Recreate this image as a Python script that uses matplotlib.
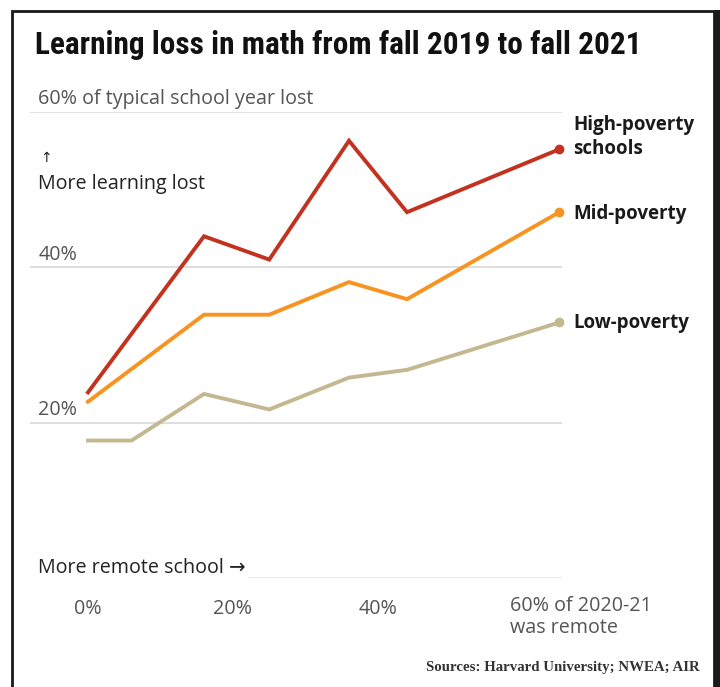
import matplotlib
matplotlib.use("Agg")
import matplotlib.pyplot as plt
from matplotlib import font_manager
from matplotlib.patches import Rectangle

def pick(*names):
    avail = {f.name for f in font_manager.fontManager.ttflist}
    for n in names:
        if n in avail:
            return n
    return "DejaVu Sans"

TITLE_FONT = pick("Liberation Sans Narrow", "Roboto Condensed", "Roboto")
BODY_FONT = pick("Open Sans", "Roboto", "DejaVu Sans")
SERIF_FONT = pick("Liberation Serif", "DejaVu Serif")

# ---- data ----
title = "Learning loss in math from fall 2019 to fall 2021"
high_x = [0, 16, 25, 36, 44, 65]
high_y = [23.9, 44.0, 41.0, 56.3, 47.1, 55.2]
mid_x = [0, 16, 25, 36, 44, 65]
mid_y = [22.7, 33.9, 33.9, 38.1, 35.9, 47.1]
low_x = [0, 6, 16, 25, 36, 44, 65]
low_y = [17.7, 17.7, 23.7, 21.7, 25.8, 26.8, 32.9]
series_labels = ["High-poverty\nschools", "Mid-poverty", "Low-poverty"]
y_ticks = [20, 40, 60]
y_tick_labels = ["20%", "40%", "60% of typical school year lost"]
x_ticks = [0, 20, 40, 60]
x_tick_labels = ["0%", "20%", "40%", "60% of 2020-21\nwas remote"]
source = "Sources: Harvard University; NWEA; AIR"

W, H = 720, 687
fig = plt.figure(figsize=(W / 100, H / 100), dpi=100)
fig.patch.set_facecolor("white")

def fx(px):
    return px / W

def fy(py):
    return 1 - py / H

# frame
fig.add_artist(Rectangle((fx(12), fy(H + 5)), fx(714) - fx(12), fy(11) - fy(H + 5),
                         transform=fig.transFigure, fill=False, edgecolor="#1a1a1a",
                         linewidth=2.0))
fig.add_artist(Rectangle((fx(714), 0), fx(720) - fx(714), fy(10),
                         transform=fig.transFigure, color="#1a1a1a", linewidth=0))

# axes: x 0 -> px 88, 7.25 px/%; y 0 -> px 578, 60 -> px 112
x_left_px, x_right_px = 30, 562
xmin = (x_left_px - 88) / 7.25
xmax = (x_right_px - 88) / 7.25
ax = fig.add_axes([fx(x_left_px), fy(578), fx(x_right_px) - fx(x_left_px), fy(112) - fy(578)])
ax.set_xlim(xmin, xmax)
ax.set_ylim(0, 60)
ax.axis("off")

for t in y_ticks:
    ax.axhline(t, color="#d6d6d6", lw=1.1, zorder=1)
ax.hlines(0, 22, xmax, color="#e3e3e3", lw=1.1, zorder=1)

colors = ["#c3321f", "#f89320", "#c4b890"]
for xs, ys, c in [(low_x, low_y, colors[2]), (mid_x, mid_y, colors[1]), (high_x, high_y, colors[0])]:
    ax.plot(xs, ys, color=c, lw=2.8, solid_joinstyle="miter", clip_on=False, zorder=3)
    ax.plot(xs[-1:], ys[-1:], "o", color=c, ms=6, clip_on=False, zorder=4)

# series labels
label_px = [(573, 137), (573, 214), (573, 323)]
for (px, py), lab in zip(label_px, series_labels):
    fig.text(fx(px), fy(py), lab, fontsize=13.5, fontweight="bold", family=BODY_FONT,
             color="#1a1a1a", ha="left", va="center", linespacing=1.3)

# y labels
for t, lab in zip(y_ticks, y_tick_labels):
    ax.annotate(lab, xy=(0, t), xycoords=("axes fraction", "data"),
                xytext=(6, 2), textcoords="offset points", fontsize=14.2,
                family=BODY_FONT, color="#555555", ha="left", va="bottom")

fig.text(fx(40), fy(158), "↑", fontsize=10, family="DejaVu Sans", color="#222222",
         ha="left", va="center")
fig.text(fx(38), fy(184), "More learning lost", fontsize=14.2, family=BODY_FONT,
         color="#222222", ha="left", va="center")
fig.text(fx(38), fy(568), "More remote school →", fontsize=14.2,
         family=[BODY_FONT, "DejaVu Sans"], color="#222222", ha="left", va="center")

# x labels
for t, lab in zip(x_ticks, x_tick_labels):
    if t < 60:
        ax.annotate(lab, xy=(t, 0), xycoords="data", xytext=(0, -22),
                    textcoords="offset points", fontsize=14.2, family=BODY_FONT,
                    color="#555555", ha="center", va="center", annotation_clip=False)
    else:
        ax.annotate(lab, xy=(t, 0), xycoords="data", xytext=(-9.5, -13),
                    textcoords="offset points", fontsize=14.2, family=BODY_FONT,
                    color="#555555", ha="left", va="top", linespacing=1.12,
                    annotation_clip=False)

fig.text(fx(35), fy(45), title, fontsize=22.5, fontweight="bold", family=TITLE_FONT,
         color="#111111", ha="left", va="center")
fig.text(fx(700), fy(668), source, fontsize=10.7, fontweight="bold", family=SERIF_FONT,
         color="#333333", ha="right", va="center")

fig.savefig("out.png", dpi=100, facecolor="white")
